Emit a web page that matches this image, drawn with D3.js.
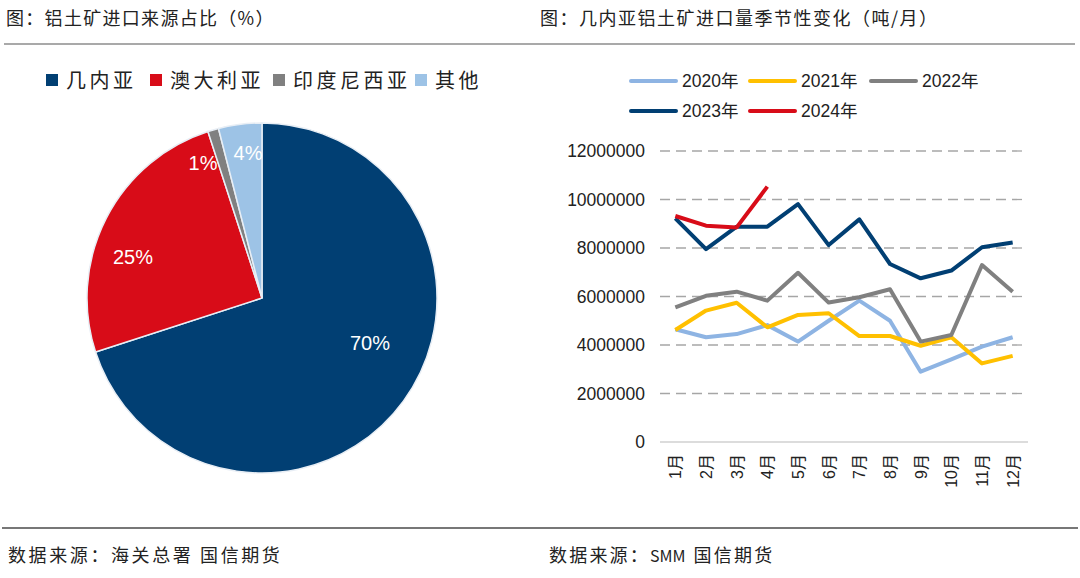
<!DOCTYPE html>
<html>
<head>
<meta charset="utf-8">
<script src="https://cdn.jsdelivr.net/npm/d3@7"></script>
<style>
  body { margin: 0; background: #fff; }
  svg text { font-family: "Liberation Sans", Arial, "Noto Sans CJK SC", sans-serif; }
  .cjk { font-family: "Noto Sans CJK SC", sans-serif; }
</style>
</head>
<body>
<svg id="chart" width="1080" height="578"></svg>
<script>
// pie data
const pieNames = ["几内亚", "澳大利亚", "印度尼西亚", "其他"];
const pieValues = [70, 25, 1, 4];
const pieColors = ["#013F73", "#D80C18", "#808080", "#9DC3E6"];

// line data
const months = ["1月", "2月", "3月", "4月", "5月", "6月", "7月", "8月", "9月", "10月", "11月", "12月"];
const years = ["2020年", "2021年", "2022年", "2023年", "2024年"];
const lineColors = ["#8EB4E3", "#FFC000", "#808080", "#013F73", "#D80C18"];
const v2020 = [4650000, 4320000, 4450000, 4820000, 4140000, 5000000, 5830000, 5000000, 2900000, 3410000, 3930000, 4320000];
const v2021 = [4620000, 5420000, 5740000, 4730000, 5240000, 5310000, 4370000, 4370000, 3970000, 4320000, 3240000, 3550000];
const v2022 = [5550000, 6030000, 6200000, 5830000, 6980000, 5750000, 5970000, 6300000, 4140000, 4410000, 7300000, 6200000];
const v2023 = [9220000, 7950000, 8880000, 8880000, 9810000, 8120000, 9180000, 7340000, 6750000, 7070000, 8030000, 8230000];
const v2024 = [9320000, 8920000, 8850000, 10530000];
const yTicks = [0, 2000000, 4000000, 6000000, 8000000, 10000000, 12000000];

const svg = d3.select("#chart");

// titles, rules, footers
svg.append("text").attr("class", "cjk").attr("x", 6).attr("y", 25)
  .attr("font-size", 18).attr("letter-spacing", 1.3).attr("fill", "#222")
  .text("图：铝土矿进口来源占比（%）");
svg.append("text").attr("class", "cjk").attr("x", 540).attr("y", 25)
  .attr("font-size", 18).attr("letter-spacing", 1.5).attr("fill", "#222")
  .text("图：几内亚铝土矿进口量季节性变化（吨/月）");
svg.append("line").attr("x1", 4).attr("x2", 1075).attr("y1", 44).attr("y2", 44)
  .attr("stroke", "#555").attr("stroke-width", 1.2);
svg.append("line").attr("x1", 2).attr("x2", 1078).attr("y1", 528).attr("y2", 528)
  .attr("stroke", "#777").attr("stroke-width", 2);
svg.append("text").attr("class", "cjk").attr("x", 8).attr("y", 562)
  .attr("font-size", 18).attr("letter-spacing", 2.6).attr("fill", "#222")
  .text("数据来源：海关总署 国信期货");
const foot2 = svg.append("text").attr("class", "cjk").attr("x", 549).attr("y", 562)
  .attr("font-size", 18).attr("letter-spacing", 2.2).attr("fill", "#222");
foot2.append("tspan").text("数据来源：");
foot2.append("tspan").attr("letter-spacing", 0).attr("font-size", 16).text("SMM");
foot2.append("tspan").attr("dx", 8).text("国信期货");

// ---- pie ----
const pieLegendX = [46, 150, 273, 415];
pieNames.forEach((n, i) => {
  svg.append("rect").attr("x", pieLegendX[i]).attr("y", 74).attr("width", 12).attr("height", 12)
    .attr("fill", pieColors[i]);
  svg.append("text").attr("class", "cjk").attr("x", pieLegendX[i] + 20).attr("y", 88)
    .attr("font-size", 20).attr("letter-spacing", 3.5).attr("fill", "#222").text(n);
});

const pieG = svg.append("g").attr("transform", "translate(262,298)");
const radius = 175;
const pie = d3.pie().sort(null).value(d => d)(pieValues);
const arc = d3.arc().innerRadius(0).outerRadius(radius);
pieG.selectAll("path.slice").data(pie).enter().append("path")
  .attr("d", arc)
  .attr("fill", (d, i) => pieColors[i])
  .attr("stroke", "#E8EEF5").attr("stroke-width", 1.5);

const labelPos = [[108, 45], [-129, -41], [-59, -135], [-14, -145]];
pie.forEach((d, i) => {
  pieG.append("text")
    .attr("x", labelPos[i][0]).attr("y", labelPos[i][1])
    .attr("text-anchor", "middle").attr("dy", "0.35em")
    .attr("font-size", 20).attr("fill", "#fff")
    .text(pieValues[i] + "%");
});

// ---- line chart ----
const x = d3.scaleBand().domain(months).range([660, 1028]);
const y = d3.scaleLinear().domain([0, 12000000]).range([442, 151]);

yTicks.forEach(t => {
  svg.append("line").attr("x1", 660).attr("x2", 1028).attr("y1", y(t)).attr("y2", y(t))
    .attr("stroke", t === 0 ? "#D0D0D0" : "#A6A6A6").attr("stroke-width", 1.3)
    .attr("stroke-dasharray", t === 0 ? null : "10,6");
  svg.append("text").attr("x", 645).attr("y", y(t)).attr("dy", "0.35em")
    .attr("text-anchor", "end").attr("font-size", 17.5).attr("fill", "#222")
    .text(t);
});

months.forEach(m => {
  svg.append("text")
    .attr("transform", `translate(${x(m) + x.bandwidth() / 2 + 6},454) rotate(-90)`)
    .attr("text-anchor", "end").attr("font-size", 16).attr("fill", "#222")
    .text(m);
});

const series = [v2020, v2021, v2022, v2023, v2024];
const line = d3.line()
  .x((d, i) => x(months[i]) + x.bandwidth() / 2)
  .y(d => y(d));
series.forEach((s, i) => {
  svg.append("path").attr("d", line(s)).attr("fill", "none")
    .attr("stroke", lineColors[i]).attr("stroke-width", 4)
    .attr("stroke-linejoin", "round");
});

// line legend
const legPos = [[631, 81], [750, 81], [871, 81], [631, 111], [750, 111]];
years.forEach((yr, i) => {
  svg.append("line").attr("x1", legPos[i][0]).attr("x2", legPos[i][0] + 45)
    .attr("y1", legPos[i][1]).attr("y2", legPos[i][1])
    .attr("stroke", lineColors[i]).attr("stroke-width", 4).attr("stroke-linecap", "round");
  svg.append("text").attr("x", legPos[i][0] + 51).attr("y", legPos[i][1]).attr("dy", "0.36em")
    .attr("font-size", 17.5).attr("fill", "#222").text(yr);
});
</script>
</body>
</html>
